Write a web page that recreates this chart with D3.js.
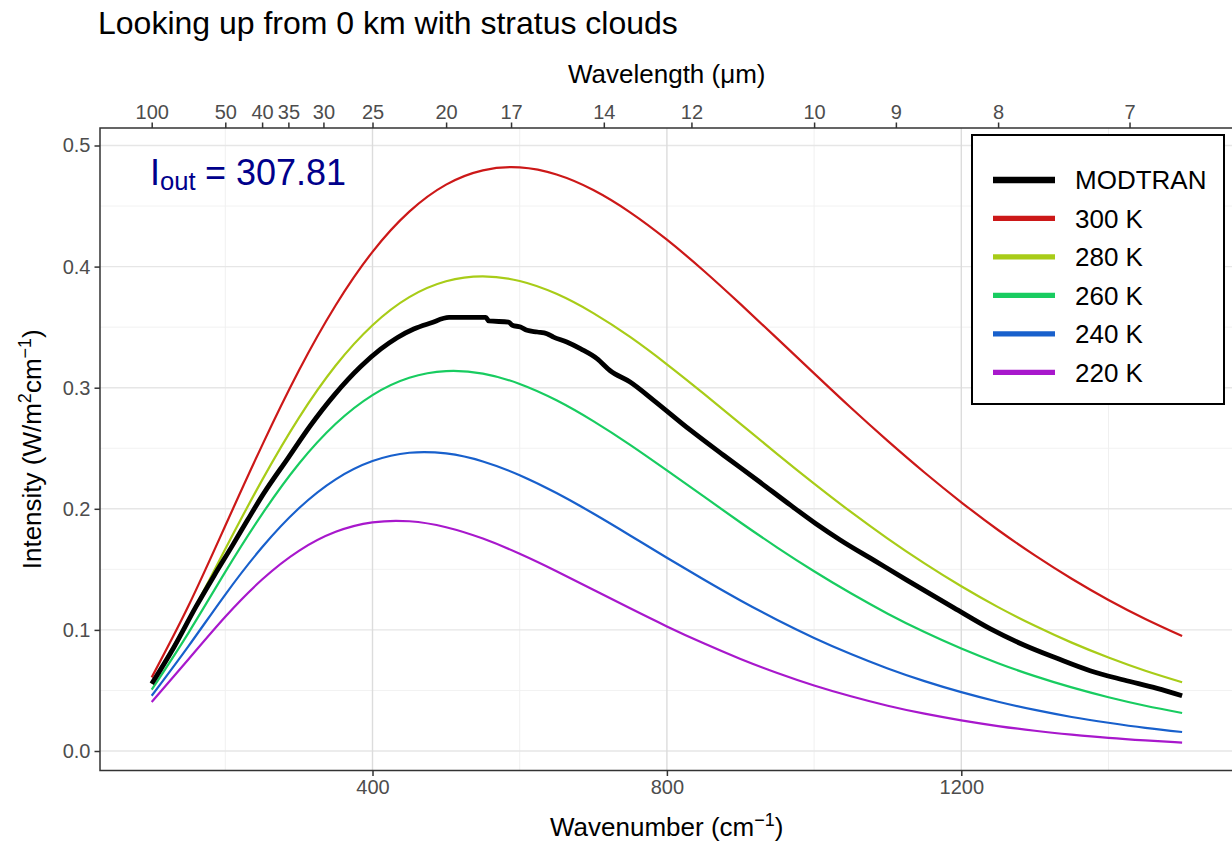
<!DOCTYPE html>
<html><head><meta charset="utf-8">
<script src="https://cdn.jsdelivr.net/npm/d3@7"></script>
<style>
body{margin:0;background:#fff}
svg{display:block}
text{font-family:"Liberation Sans", Arial, Helvetica, sans-serif}
</style>
</head><body><svg id="chart" width="1232" height="843"></svg>
<script>
// ---- data ----
const wavenumbers = [100,150,200,250,300,350,400,450,500,550,600,650,700,750,800,850,900,950,1000,1050,1100,1150,1200,1250,1300,1350,1400,1450,1500];
const intensity300K = [0.0608,0.1199,0.1860,0.2524,0.3142,0.3681,0.4122,0.4454,0.4677,0.4795,0.4819,0.4760,0.4632,0.4448,0.4222,0.3966,0.3690,0.3405,0.3118,0.2834,0.2561,0.2300,0.2054,0.1825,0.1615,0.1422,0.1247,0.1090,0.0949];
const intensity280K = [0.0557,0.1087,0.1668,0.2237,0.2751,0.3183,0.3516,0.3748,0.3879,0.3920,0.3881,0.3775,0.3616,0.3419,0.3193,0.2951,0.2702,0.2452,0.2208,0.1974,0.1754,0.1549,0.1360,0.1188,0.1034,0.0895,0.0772,0.0663,0.0568];
const intensity260K = [0.0506,0.0976,0.1479,0.1956,0.2372,0.2702,0.2939,0.3082,0.3137,0.3116,0.3031,0.2896,0.2724,0.2528,0.2317,0.2102,0.1887,0.1680,0.1484,0.1302,0.1134,0.0982,0.0846,0.0725,0.0618,0.0525,0.0444,0.0374,0.0314];
const intensity240K = [0.0456,0.0866,0.1292,0.1682,0.2004,0.2243,0.2394,0.2463,0.2457,0.2391,0.2277,0.2130,0.1961,0.1780,0.1596,0.1416,0.1243,0.1082,0.0934,0.0801,0.0682,0.0577,0.0486,0.0407,0.0339,0.0281,0.0233,0.0191,0.0157];
const intensity220K = [0.0405,0.0758,0.1109,0.1416,0.1653,0.1810,0.1888,0.1897,0.1848,0.1754,0.1629,0.1485,0.1332,0.1178,0.1029,0.0889,0.0760,0.0644,0.0541,0.0452,0.0374,0.0308,0.0253,0.0206,0.0167,0.0135,0.0108,0.0087,0.0069];
const seriesLabels = ["300 K","280 K","260 K","240 K","220 K"];
const seriesColors = ["#CC1818","#A8CC18","#18CC60","#1860CC","#A818CC"];

const modtranWavenumber = [100,130,160,185,210,230,252,285,316,348,384,411,434,456,479,504,554,558,585,590,601,610,624,637,646,664,683,705,723,750,782,832,877,923,968,1002,1036,1081,1126,1190,1239,1285,1330,1375,1421,1466,1500];
const modtranIntensity = [0.0555,0.0855,0.119,0.145,0.170,0.1905,0.2125,0.2417,0.2690,0.2939,0.3175,0.3318,0.3415,0.3485,0.3534,0.358,0.358,0.3551,0.3542,0.3515,0.3501,0.3474,0.346,0.3446,0.3418,0.3377,0.332,0.324,0.314,0.3047,0.2896,0.2649,0.2442,0.2236,0.2030,0.1879,0.1741,0.1576,0.1411,0.1182,0.1010,0.0875,0.0765,0.0663,0.0586,0.0517,0.0456];

const yTicks = [0,0.1,0.2,0.3,0.4,0.5];
const yMinorTicks = [0.05,0.15,0.25,0.35,0.45];
const xTicks = [400,800,1200];
const xMinorTicks = [200,600,1000,1400];
const wavelengthTicks = [100,50,40,35,30,25,20,17,14,12,10,9,8,7];
const outgoing = "307.81";

// ---- layout ----
const svg = d3.select("#chart");
const P = {left:100, right:1233.5, top:128, bottom:770.5};
const x = d3.scaleLinear().domain([400,1200]).range([372.5,961.3]);
const y = d3.scaleLinear().domain([0,0.5]).range([751,145.5]);

// grid
const grid = svg.append("g");
grid.selectAll(".hmin").data(yMinorTicks).join("line")
  .attr("x1",P.left).attr("x2",P.right).attr("y1",d=>y(d)).attr("y2",d=>y(d))
  .attr("stroke","#F2F2F2").attr("stroke-width",1);
grid.selectAll(".vmin").data(xMinorTicks).join("line")
  .attr("y1",P.top).attr("y2",P.bottom).attr("x1",d=>x(d)).attr("x2",d=>x(d))
  .attr("stroke","#F0F0F0").attr("stroke-width",1);
grid.selectAll(".hmaj").data(yTicks).join("line")
  .attr("x1",P.left).attr("x2",P.right).attr("y1",d=>y(d)).attr("y2",d=>y(d))
  .attr("stroke","#E6E6E6").attr("stroke-width",1.4);
grid.selectAll(".vmaj").data(xTicks).join("line")
  .attr("y1",P.top).attr("y2",P.bottom).attr("x1",d=>x(d)).attr("x2",d=>x(d))
  .attr("stroke","#DCDCDC").attr("stroke-width",1.4);

// curves
const planck = [intensity300K,intensity280K,intensity260K,intensity240K,intensity220K];
const line = d3.line().x(d=>x(d[0])).y(d=>y(d[1])).curve(d3.curveNatural);
planck.forEach((vals,i)=>{
  svg.append("path").datum(wavenumbers.map((w,j)=>[w,vals[j]]))
    .attr("d",line).attr("fill","none").attr("stroke",seriesColors[i]).attr("stroke-width",2.2);
});
const mline = d3.line().x(d=>x(d[0])).y(d=>y(d[1])).curve(d3.curveMonotoneX);
svg.append("path").datum(modtranWavenumber.map((w,j)=>[w,modtranIntensity[j]]))
  .attr("d",mline).attr("fill","none").attr("stroke","#000").attr("stroke-width",4.8)
  .attr("stroke-linejoin","round");

// panel border
svg.append("rect").attr("x",P.left).attr("y",P.top).attr("width",P.right-P.left).attr("height",P.bottom-P.top)
  .attr("fill","none").attr("stroke","#333").attr("stroke-width",1.5);

// axes
function styleAxis(g){
  g.select(".domain").remove();
  g.selectAll(".tick line").attr("stroke","#333").attr("stroke-width",1.5);
  g.selectAll(".tick text").attr("fill","#4D4D4D").style("font-size","20px").style("font-family",'"Liberation Sans", Arial, sans-serif');
}
svg.append("g").attr("transform",`translate(${P.left},0)`)
  .call(d3.axisLeft(y).tickValues(yTicks).tickFormat(d3.format(".1f")).tickSize(5.5).tickPadding(4))
  .call(styleAxis);
svg.append("g").attr("transform",`translate(0,${P.bottom})`)
  .call(d3.axisBottom(x).tickValues(xTicks).tickFormat(d3.format("d")).tickSize(5.5).tickPadding(4))
  .call(styleAxis);
svg.append("g").attr("transform",`translate(0,${P.top})`)
  .call(d3.axisTop(x).tickValues(wavelengthTicks.map(l=>10000/l)).tickFormat((d,i)=>wavelengthTicks[i]).tickSize(5.5).tickPadding(4))
  .call(styleAxis);

// titles
svg.append("text").attr("x",98).attr("y",34).style("font-size","32px").attr("fill","#000")
  .text("Looking up from 0 km with stratus clouds");

const xt = svg.append("text").attr("x",(P.left+P.right)/2).attr("y",836).attr("text-anchor","middle")
  .style("font-size","26px").attr("fill","#000");
xt.append("tspan").text("Wavenumber (cm");
xt.append("tspan").attr("dy",-10).style("font-size","18px").text("\u22121");
xt.append("tspan").attr("dy",10).text(")");

svg.append("text").attr("x",(P.left+P.right)/2).attr("y",83).attr("text-anchor","middle")
  .style("font-size","26px").attr("fill","#000").text("Wavelength (\u03bcm)");

const yt = svg.append("text").attr("transform",`translate(41,${(P.top+P.bottom)/2}) rotate(-90)`)
  .attr("text-anchor","middle").style("font-size","26px").attr("fill","#000");
yt.append("tspan").text("Intensity (W/m");
yt.append("tspan").attr("dy",-10).style("font-size","18px").text("2");
yt.append("tspan").attr("dy",10).text("cm");
yt.append("tspan").attr("dy",-10).style("font-size","18px").text("\u22121");
yt.append("tspan").attr("dy",10).text(")");

// annotation
const ann = svg.append("text").attr("x",150).attr("y",185).attr("fill","#00008B").style("font-size","36px");
ann.append("tspan").text("I");
ann.append("tspan").attr("dy",5).style("font-size","25.6px").text("out");
ann.append("tspan").attr("dy",-5).attr("x",205).text("=");
ann.append("tspan").attr("x",236).text(outgoing);

// legend
const lg = svg.append("g");
lg.append("rect").attr("x",972).attr("y",135).attr("width",252).attr("height",269)
  .attr("fill","#fff").attr("stroke","#000").attr("stroke-width",2);
const legendItems = [{label:"MODTRAN",color:"#000",w:6.5}].concat(seriesLabels.map((l,i)=>({label:l,color:seriesColors[i],w:5.3})));
const ly = d3.scalePoint().domain(legendItems.map(d=>d.label)).range([180,372.3]);
legendItems.forEach(d=>{
  lg.append("line").attr("x1",993).attr("x2",1055).attr("y1",ly(d.label)).attr("y2",ly(d.label))
    .attr("stroke",d.color).attr("stroke-width",d.w);
  lg.append("text").attr("x",1075).attr("y",ly(d.label)).attr("dy","0.36em")
    .style("font-size","26px").attr("fill","#000").text(d.label);
});
</script>
</body></html>
